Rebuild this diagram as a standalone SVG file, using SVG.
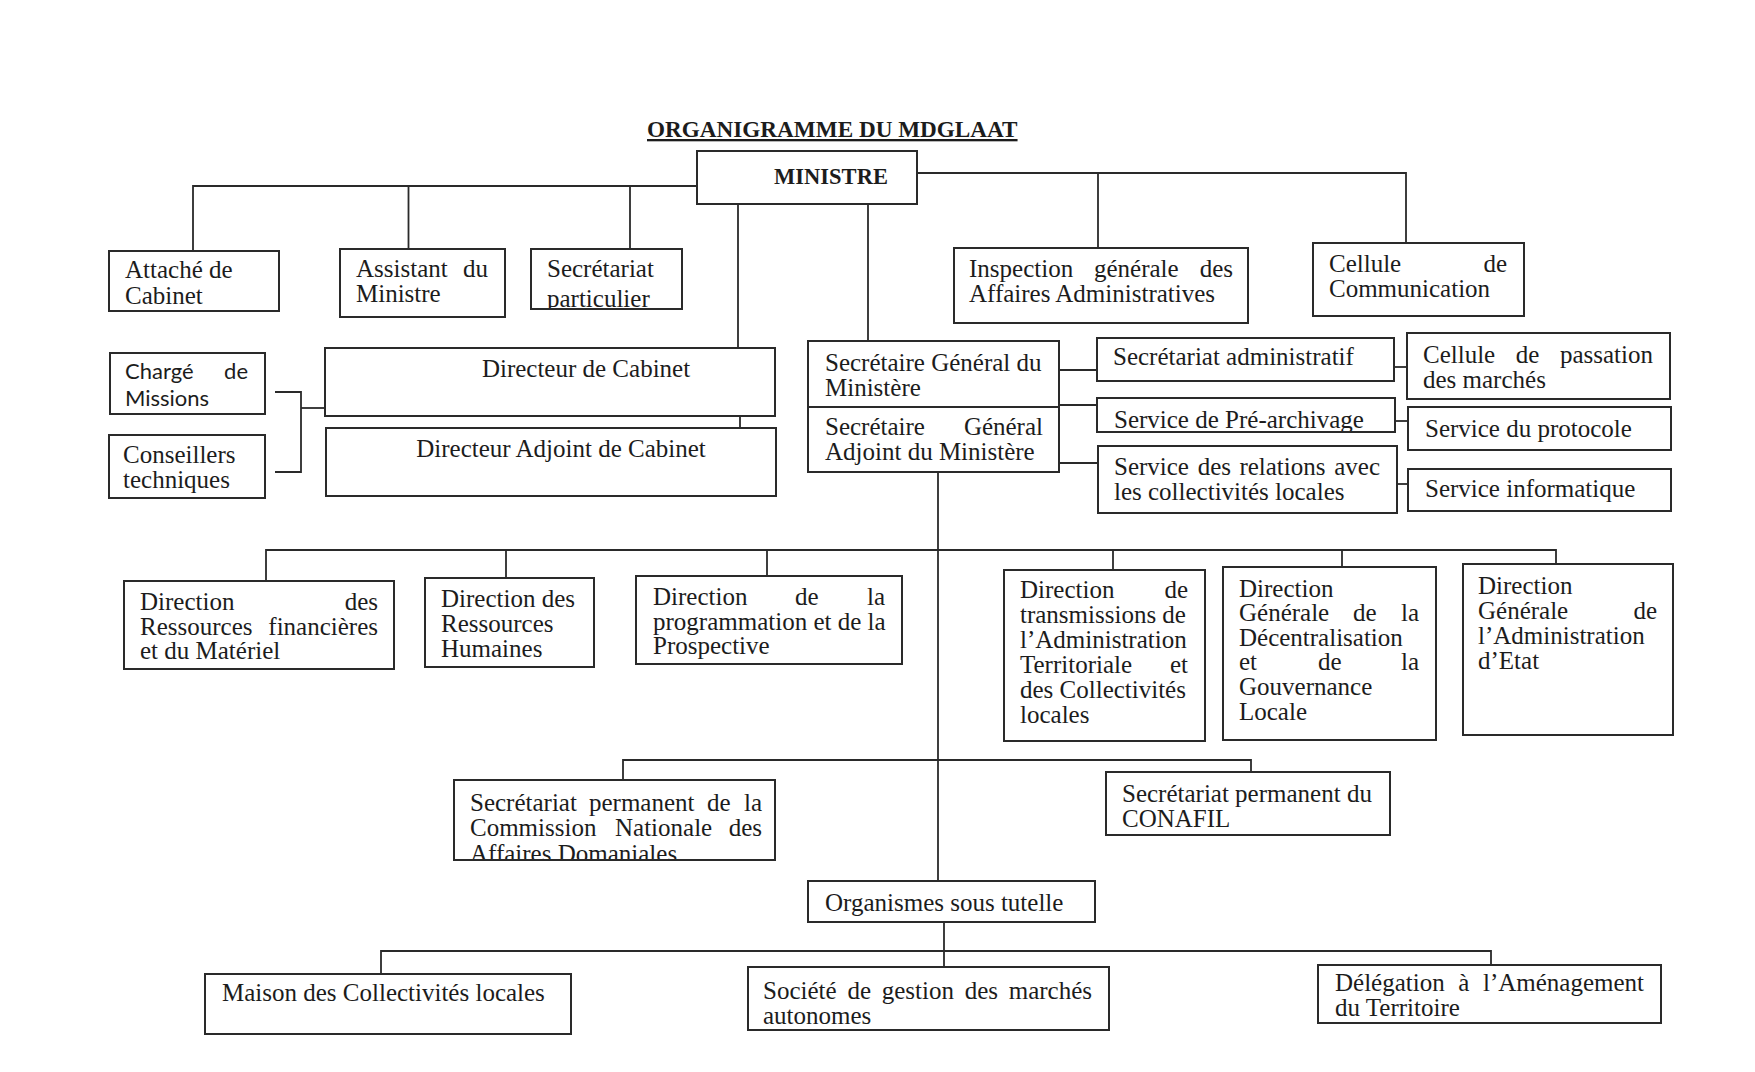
<svg xmlns="http://www.w3.org/2000/svg" width="1755" height="1072" viewBox="0 0 1755 1072">
<style>
.box{fill:#fff;stroke:#2a2a2a;stroke-width:2}
.ln{fill:none;stroke:#2a2a2a;stroke-width:1.8}
.t{font-family:"Liberation Serif","Times New Roman",serif;font-size:25px;fill:#1c1c1c}
.s{font-family:Lato,"Liberation Sans",sans-serif;font-size:22px;fill:#1c1c1c}
.b{font-family:"Liberation Serif","Times New Roman",serif;font-weight:bold;fill:#1c1c1c}
.e{text-anchor:end}
.m{text-anchor:middle}
</style>
<defs>
<clipPath id="cpSecpart"><rect x="531" y="249" width="151" height="60"/></clipPath>
<clipPath id="cpPrearch"><rect x="1097" y="398" width="298" height="34"/></clipPath>
<clipPath id="cpSpcnad"><rect x="454" y="780" width="321" height="80"/></clipPath>
</defs>
<rect x="0" y="0" width="1755" height="1072" fill="#fff"/>

<text id="title" class="b" x="647" y="137" font-size="23.2" text-decoration="underline">ORGANIGRAMME DU MDGLAAT</text>

<g id="connectors">
<path class="ln" d="M697 186 H193 V251"/>
<path class="ln" d="M408.5 186 V249"/>
<path class="ln" d="M630 186 V249"/>
<path class="ln" d="M917 173 H1406 V243"/>
<path class="ln" d="M1098 173 V248"/>
<path class="ln" d="M738 204 V348"/>
<path class="ln" d="M868 204 V341"/>
<path class="ln" d="M740 416 V428"/>
<path class="ln" d="M275 392 H301 V472 H275"/>
<path class="ln" d="M301 408 H325"/>
<path class="ln" d="M1059 370 H1097"/>
<path class="ln" d="M1059 405 H1097"/>
<path class="ln" d="M1059 463 H1098"/>
<path class="ln" d="M1394 367 H1407"/>
<path class="ln" d="M1395 421 H1408"/>
<path class="ln" d="M1397 484 H1408"/>
<path class="ln" d="M938 472 V881"/>
<path class="ln" d="M266 581 V550 H1556 V564"/>
<path class="ln" d="M506 550 V578"/>
<path class="ln" d="M767 550 V576"/>
<path class="ln" d="M1113 550 V570"/>
<path class="ln" d="M1342 550 V567"/>
<path class="ln" d="M623 780 V760 H1251 V772"/>
<path class="ln" d="M944 922 V967"/>
<path class="ln" d="M381 974 V951 H1491 V965"/>
</g>

<g id="n_ministre">
<rect class="box" x="697" y="151" width="220" height="53"/>
<text class="b m" x="831" y="184" font-size="22.5">MINISTRE</text>
</g>

<g id="n_attache">
<rect class="box" x="109" y="251" width="170" height="60"/>
<text class="t"><tspan x="125" y="278">Attaché de</tspan><tspan x="125" y="304">Cabinet</tspan></text>
</g>

<g id="n_assistant">
<rect class="box" x="340" y="249" width="165" height="68"/>
<text class="t"><tspan x="356" y="277">Assistant</tspan><tspan class="e" x="488" y="277">du</tspan><tspan x="356" y="302">Ministre</tspan></text>
</g>

<g id="n_secpart">
<rect class="box" x="531" y="249" width="151" height="60"/>
<text class="t" clip-path="url(#cpSecpart)"><tspan x="547" y="277">Secrétariat</tspan><tspan x="547" y="307">particulier</tspan></text>
<rect x="531" y="249" width="151" height="60" fill="none" stroke="#2a2a2a" stroke-width="2"/>
</g>

<g id="n_inspection">
<rect class="box" x="954" y="248" width="294" height="75"/>
<text class="t"><tspan x="969" y="277">Inspection</tspan><tspan x="1094" y="277">générale</tspan><tspan class="e" x="1233" y="277">des</tspan><tspan x="969" y="302">Affaires Administratives</tspan></text>
</g>

<g id="n_cellcom">
<rect class="box" x="1313" y="243" width="211" height="73"/>
<text class="t"><tspan x="1329" y="272">Cellule</tspan><tspan class="e" x="1507" y="272">de</tspan><tspan x="1329" y="297">Communication</tspan></text>
</g>

<g id="n_charge">
<rect class="box" x="110" y="353" width="155" height="61"/>
<text class="s"><tspan x="125" y="379">Chargé</tspan><tspan class="e" x="248" y="379">de</tspan><tspan x="125" y="406">Missions</tspan></text>
</g>

<g id="n_conseillers">
<rect class="box" x="109" y="435" width="156" height="63"/>
<text class="t"><tspan x="123" y="463">Conseillers</tspan><tspan x="123" y="488">techniques</tspan></text>
</g>

<g id="n_dircab">
<rect class="box" x="325" y="348" width="450" height="68"/>
<text class="t m" x="586" y="377">Directeur de Cabinet</text>
</g>

<g id="n_diradj">
<rect class="box" x="326" y="428" width="450" height="68"/>
<text class="t m" x="561" y="457">Directeur Adjoint de Cabinet</text>
</g>

<g id="n_sg">
<rect class="box" x="808" y="341" width="251" height="131"/>
<line x1="808" y1="407" x2="1059" y2="407" stroke="#2a2a2a" stroke-width="2"/>
<text class="t"><tspan x="825" y="371">Secrétaire Général du</tspan><tspan x="825" y="396">Ministère</tspan><tspan x="825" y="435">Secrétaire</tspan><tspan class="e" x="1043" y="435">Général</tspan><tspan x="825" y="460">Adjoint du Ministère</tspan></text>
</g>

<g id="n_secadm">
<rect class="box" x="1097" y="338" width="297" height="43"/>
<text class="t" x="1113" y="365">Secrétariat administratif</text>
</g>

<g id="n_prearch">
<rect class="box" x="1097" y="398" width="298" height="34"/>
<text class="t" x="1114" y="428" clip-path="url(#cpPrearch)">Service de Pré-archivage</text>
<rect x="1097" y="398" width="298" height="34" fill="none" stroke="#2a2a2a" stroke-width="2"/>
</g>

<g id="n_relations">
<rect class="box" x="1098" y="446" width="299" height="67"/>
<text class="t"><tspan x="1114" y="475">Service</tspan><tspan x="1197.7" y="475">des</tspan><tspan x="1239.4" y="475">relations</tspan><tspan class="e" x="1380" y="475">avec</tspan><tspan x="1114" y="500">les collectivités locales</tspan></text>
</g>

<g id="n_passation">
<rect class="box" x="1407" y="333" width="263" height="66"/>
<text class="t"><tspan x="1423" y="363">Cellule</tspan><tspan x="1515.8" y="363">de</tspan><tspan class="e" x="1653" y="363">passation</tspan><tspan x="1423" y="388">des marchés</tspan></text>
</g>

<g id="n_protocole">
<rect class="box" x="1408" y="407" width="263" height="43"/>
<text class="t" x="1425" y="437">Service du protocole</text>
</g>

<g id="n_informatique">
<rect class="box" x="1408" y="469" width="263" height="42"/>
<text class="t" x="1425" y="497">Service informatique</text>
</g>

<g id="n_drfm">
<rect class="box" x="124" y="581" width="270" height="88"/>
<text class="t"><tspan x="140" y="610">Direction</tspan><tspan class="e" x="378" y="610">des</tspan><tspan x="140" y="635">Ressources</tspan><tspan class="e" x="378" y="635">financières</tspan><tspan x="140" y="659">et du Matériel</tspan></text>
</g>

<g id="n_drh">
<rect class="box" x="425" y="578" width="169" height="89"/>
<text class="t"><tspan x="441" y="607">Direction des</tspan><tspan x="441" y="632">Ressources</tspan><tspan x="441" y="657">Humaines</tspan></text>
</g>

<g id="n_dpp">
<rect class="box" x="636" y="576" width="266" height="88"/>
<text class="t"><tspan x="653" y="605">Direction</tspan><tspan x="795" y="605">de</tspan><tspan class="e" x="885" y="605">la</tspan><tspan x="653" y="630">programmation et de la</tspan><tspan x="653" y="654">Prospective</tspan></text>
</g>

<g id="n_dtat">
<rect class="box" x="1004" y="570" width="201" height="171"/>
<text class="t"><tspan x="1020" y="598">Direction</tspan><tspan class="e" x="1188" y="598">de</tspan><tspan x="1020" y="623">transmissions de</tspan><tspan x="1020" y="648">l’Administration</tspan><tspan x="1020" y="673">Territoriale</tspan><tspan class="e" x="1188" y="673">et</tspan><tspan x="1020" y="698">des Collectivités</tspan><tspan x="1020" y="723">locales</tspan></text>
</g>

<g id="n_dgdgl">
<rect class="box" x="1223" y="567" width="213" height="173"/>
<text class="t"><tspan x="1239" y="597">Direction</tspan><tspan x="1239" y="621">Générale</tspan><tspan x="1353" y="621">de</tspan><tspan class="e" x="1419" y="621">la</tspan><tspan x="1239" y="646">Décentralisation</tspan><tspan x="1239" y="670">et</tspan><tspan x="1318" y="670">de</tspan><tspan class="e" x="1419" y="670">la</tspan><tspan x="1239" y="695">Gouvernance</tspan><tspan x="1239" y="720">Locale</tspan></text>
</g>

<g id="n_dgae">
<rect class="box" x="1463" y="564" width="210" height="171"/>
<text class="t"><tspan x="1478" y="594">Direction</tspan><tspan x="1478" y="619">Générale</tspan><tspan class="e" x="1657" y="619">de</tspan><tspan x="1478" y="644">l’Administration</tspan><tspan x="1478" y="669">d’Etat</tspan></text>
</g>

<g id="n_spcnad">
<rect class="box" x="454" y="780" width="321" height="80"/>
<text class="t" clip-path="url(#cpSpcnad)"><tspan x="470" y="811">Secrétariat</tspan><tspan x="589" y="811">permanent</tspan><tspan x="707" y="811">de</tspan><tspan class="e" x="762" y="811">la</tspan><tspan x="470" y="836">Commission</tspan><tspan x="615" y="836">Nationale</tspan><tspan class="e" x="762" y="836">des</tspan><tspan x="470" y="862">Affaires Domaniales</tspan></text>
<rect x="454" y="780" width="321" height="80" fill="none" stroke="#2a2a2a" stroke-width="2"/>
</g>

<g id="n_spconafil">
<rect class="box" x="1106" y="772" width="284" height="63"/>
<text class="t"><tspan x="1122" y="802">Secrétariat permanent du</tspan><tspan x="1122" y="827">CONAFIL</tspan></text>
</g>

<g id="n_organismes">
<rect class="box" x="808" y="881" width="287" height="41"/>
<text class="t" x="825" y="911">Organismes sous tutelle</text>
</g>

<g id="n_maison">
<rect class="box" x="205" y="974" width="366" height="60"/>
<text class="t" x="222" y="1001">Maison des Collectivités locales</text>
</g>

<g id="n_societe">
<rect class="box" x="748" y="967" width="361" height="63"/>
<text class="t"><tspan x="763" y="999">Société</tspan><tspan x="847.4" y="999">de</tspan><tspan x="881.7" y="999">gestion</tspan><tspan x="964.7" y="999">des</tspan><tspan class="e" x="1092" y="999">marchés</tspan><tspan x="763" y="1024">autonomes</tspan></text>
</g>

<g id="n_delegation">
<rect class="box" x="1318" y="965" width="343" height="58"/>
<text class="t"><tspan x="1335" y="991">Délégation</tspan><tspan x="1458.3" y="991">à</tspan><tspan class="e" x="1644" y="991">l’Aménagement</tspan><tspan x="1335" y="1016">du Territoire</tspan></text>
</g>
</svg>
